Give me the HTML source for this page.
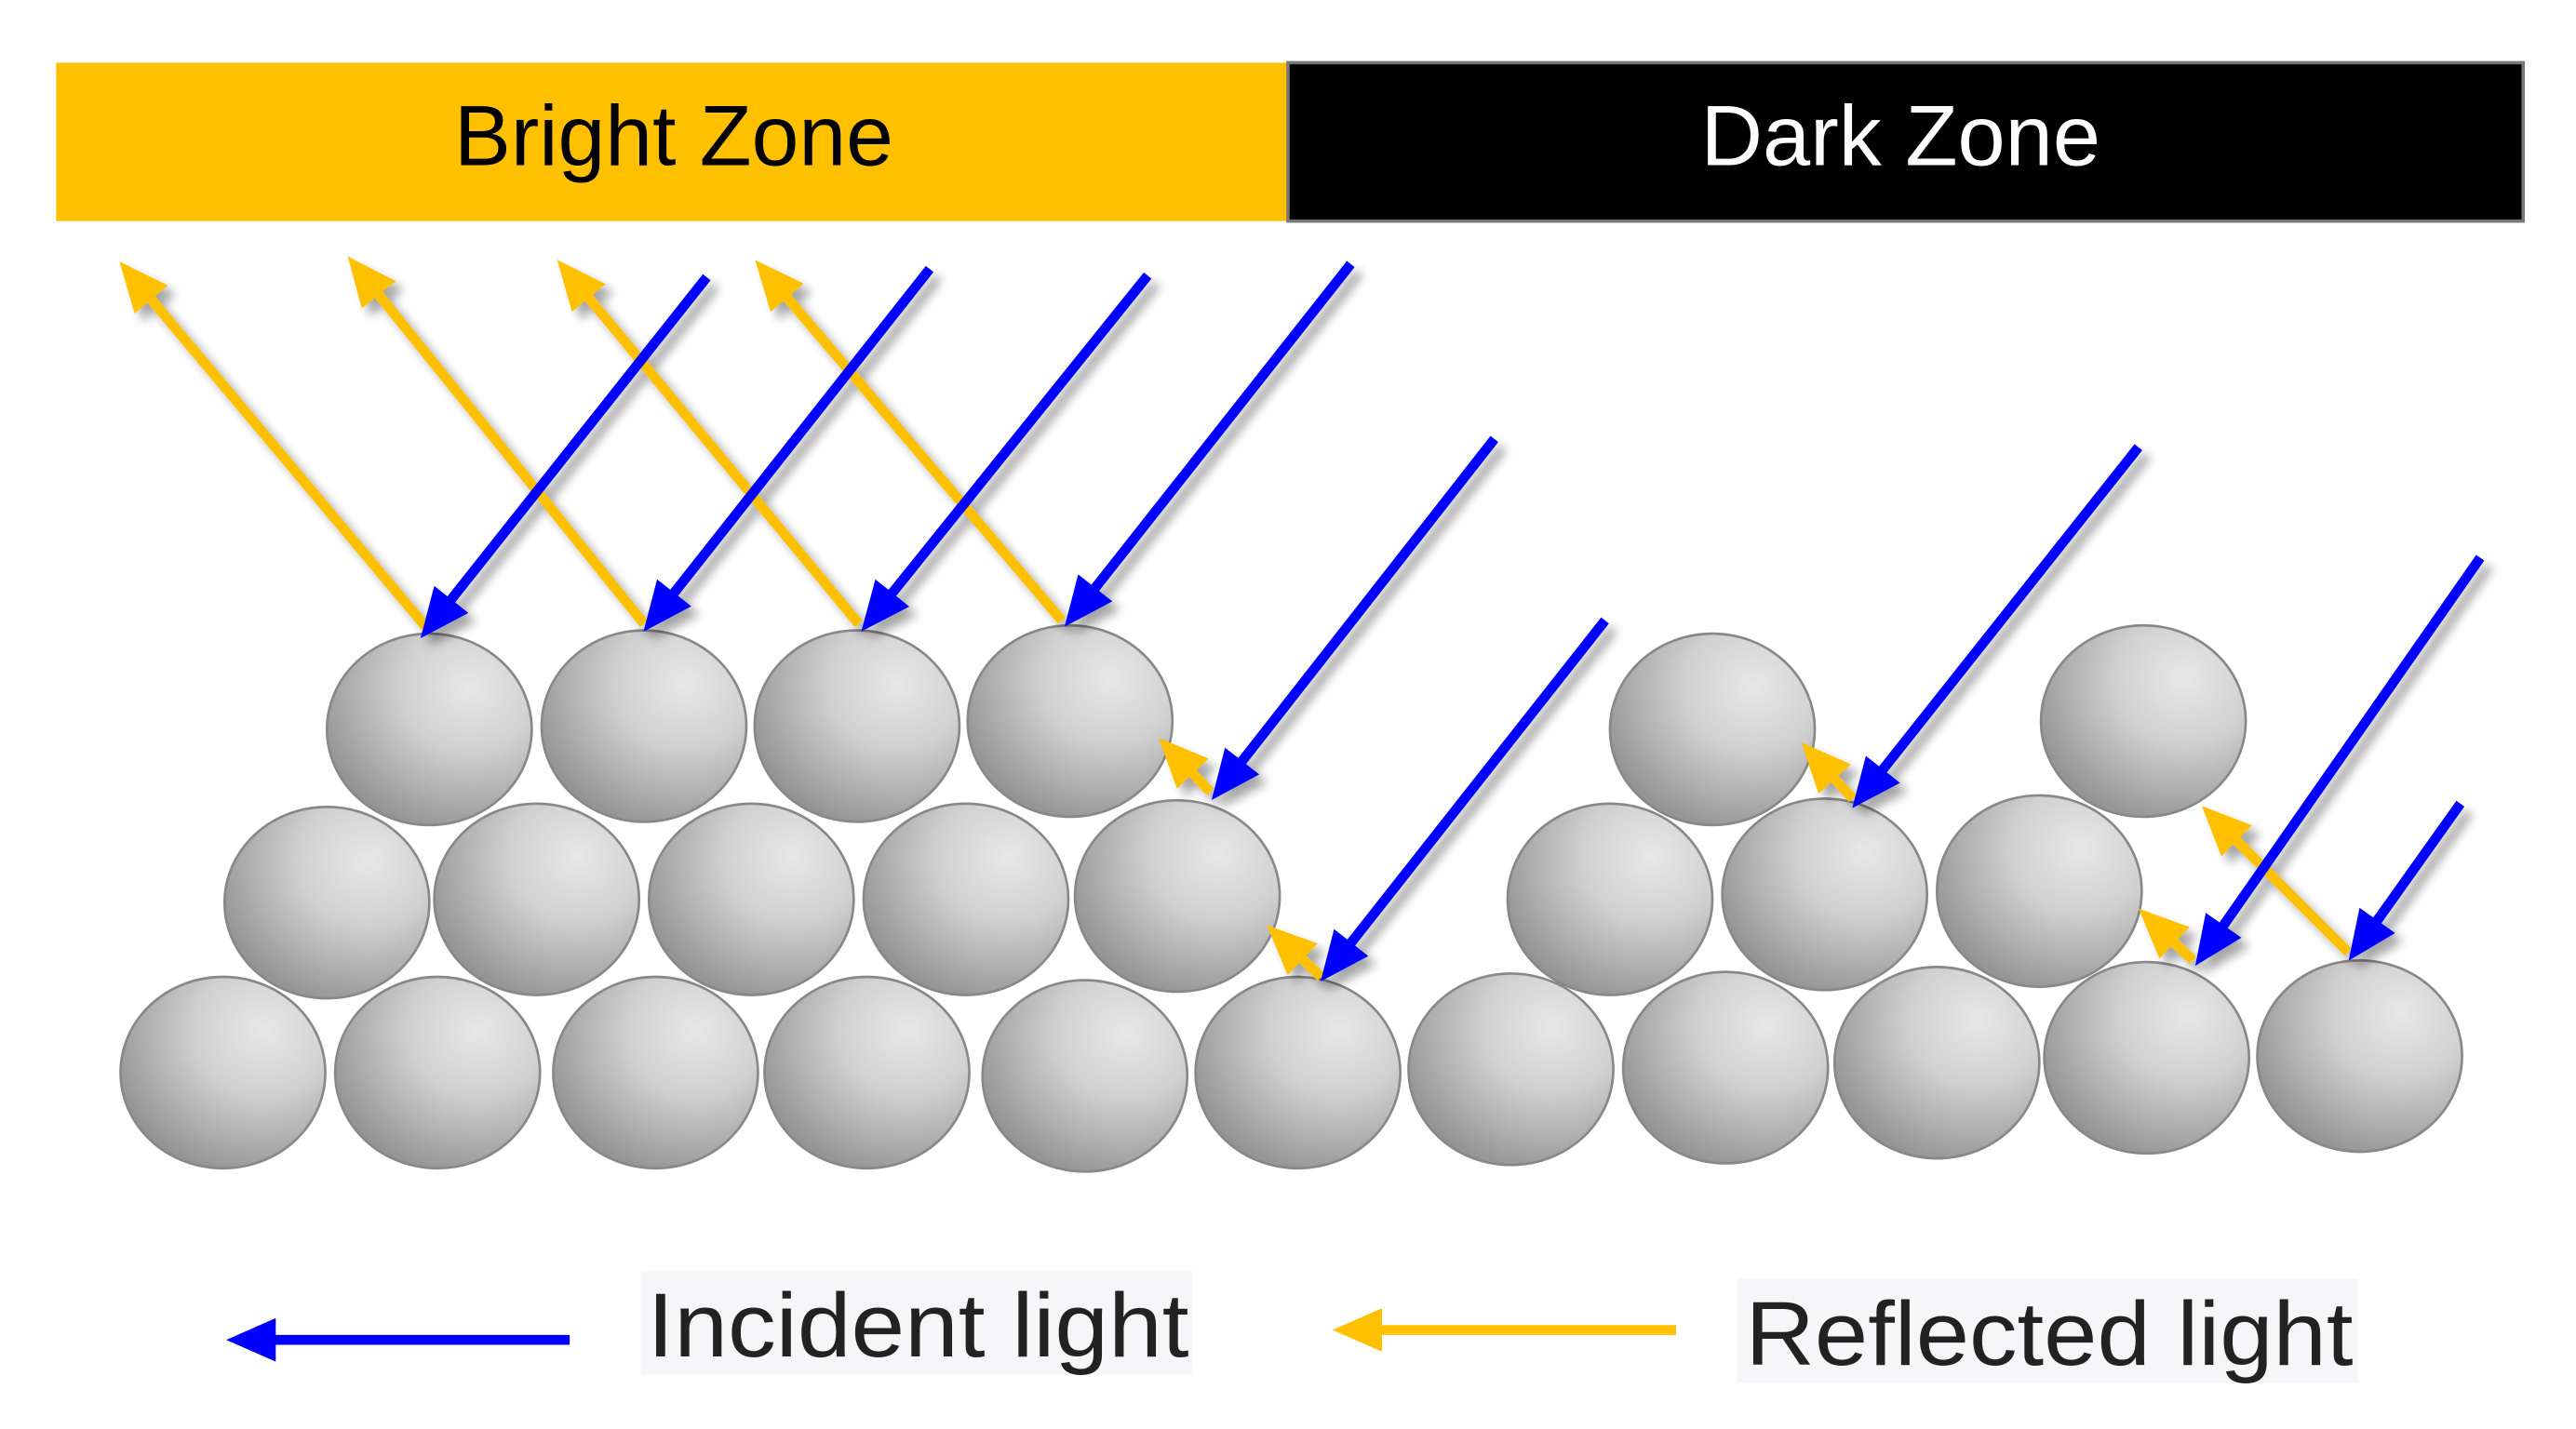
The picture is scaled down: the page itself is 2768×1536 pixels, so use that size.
<!DOCTYPE html>
<html><head><meta charset="utf-8"><style>html,body{margin:0;padding:0;background:#fff;}svg{display:block}</style></head>
<body>
<svg width="2768" height="1536" viewBox="0 0 1560 866" preserveAspectRatio="none" xmlns="http://www.w3.org/2000/svg" font-family="Liberation Sans, sans-serif">
<defs>
<radialGradient id="g" cx="0.7" cy="0.28" r="0.85">
<stop offset="0" stop-color="#e8e8e8"/><stop offset="0.4" stop-color="#d0d0d0"/><stop offset="1" stop-color="#8a8a8a"/>
</radialGradient>
<filter id="sh" x="-20%" y="-20%" width="140%" height="140%"><feGaussianBlur in="SourceAlpha" stdDeviation="3"/><feOffset dx="5" dy="5"/><feComponentTransfer><feFuncA type="linear" slope="0.35"/></feComponentTransfer><feMerge><feMergeNode/><feMergeNode in="SourceGraphic"/></feMerge></filter>
<marker id="ab" markerWidth="5" markerHeight="4.4" refX="2.5" refY="2.2" orient="auto" markerUnits="strokeWidth"><path d="M0,0 L5,2.2 L0,4.4 Z" fill="#0000ff"/></marker>
<marker id="ay" markerWidth="5" markerHeight="4.4" refX="2.5" refY="2.2" orient="auto" markerUnits="strokeWidth"><path d="M0,0 L5,2.2 L0,4.4 Z" fill="#ffc000"/></marker>
</defs>
<rect x="34" y="38" width="746" height="96" fill="#ffc000"/>
<rect x="780" y="38" width="748" height="96" fill="#000" stroke="#777" stroke-width="2"/>
<text x="275" y="100" font-size="52" fill="#000" textLength="266" lengthAdjust="spacingAndGlyphs">Bright Zone</text>
<text x="1030" y="100" font-size="52" fill="#fff" textLength="242" lengthAdjust="spacingAndGlyphs">Dark Zone</text>
<g fill="url(#g)" stroke="#888" stroke-width="1.5">
<ellipse cx="135" cy="650" rx="62" ry="58"/><ellipse cx="265" cy="650" rx="62" ry="58"/><ellipse cx="397" cy="650" rx="62" ry="58"/><ellipse cx="525" cy="650" rx="62" ry="58"/><ellipse cx="657" cy="652" rx="62" ry="58"/><ellipse cx="786" cy="650" rx="62" ry="58"/><ellipse cx="915" cy="648" rx="62" ry="58"/><ellipse cx="1045" cy="647" rx="62" ry="58"/><ellipse cx="1173" cy="644" rx="62" ry="58"/><ellipse cx="1300" cy="641" rx="62" ry="58"/><ellipse cx="1429" cy="640" rx="62" ry="58"/>
<ellipse cx="198" cy="547" rx="62" ry="58"/><ellipse cx="325" cy="545" rx="62" ry="58"/><ellipse cx="455" cy="545" rx="62" ry="58"/><ellipse cx="585" cy="545" rx="62" ry="58"/><ellipse cx="713" cy="543" rx="62" ry="58"/>
<ellipse cx="975" cy="545" rx="62" ry="58"/><ellipse cx="1105" cy="542" rx="62" ry="58"/><ellipse cx="1235" cy="540" rx="62" ry="58"/>
<ellipse cx="260" cy="442" rx="62" ry="58"/><ellipse cx="390" cy="440" rx="62" ry="58"/><ellipse cx="519" cy="440" rx="62" ry="58"/><ellipse cx="648" cy="437" rx="62" ry="58"/>
<ellipse cx="1037" cy="442" rx="62" ry="58"/><ellipse cx="1298" cy="437" rx="62" ry="58"/>
</g>
<g filter="url(#sh)" stroke-width="6" fill="none">
<g stroke="#ffc000" marker-end="url(#ay)">
<line x1="258" y1="380" x2="82" y2="170"/><line x1="390" y1="378" x2="220" y2="167"/><line x1="520" y1="378" x2="347" y2="169"/><line x1="643" y1="376" x2="467" y2="169"/>
<line x1="733" y1="480" x2="712" y2="458"/><line x1="800" y1="592" x2="778" y2="571"/><line x1="1122" y1="484" x2="1101" y2="461"/><line x1="1328" y1="582" x2="1306" y2="561"/><line x1="1422" y1="577" x2="1344" y2="499"/>
</g>
<g stroke="#0000ff" marker-end="url(#ab)">
<line x1="428" y1="168" x2="264" y2="375"/><line x1="563" y1="163" x2="399" y2="371"/><line x1="695" y1="167" x2="531" y2="371"/><line x1="818" y1="160" x2="654" y2="368"/><line x1="905" y1="266" x2="743" y2="473"/><line x1="972" y1="376" x2="809" y2="583"/><line x1="1295" y1="271" x2="1131" y2="478"/><line x1="1502" y1="338" x2="1338" y2="573"/><line x1="1490" y1="487" x2="1431" y2="570"/>
</g>
</g>
<rect x="388" y="770" width="334" height="63" fill="#f6f6f8"/>
<rect x="1052" y="775" width="376" height="63" fill="#f6f6f8"/>
<line x1="345" y1="812" x2="152" y2="812" stroke="#0000ff" stroke-width="6" marker-end="url(#ab)"/>
<line x1="1015" y1="806" x2="822" y2="806" stroke="#ffc000" stroke-width="6" marker-end="url(#ay)"/>
<text x="392" y="822" font-size="55" fill="#222" textLength="328" lengthAdjust="spacingAndGlyphs">Incident light</text>
<text x="1057" y="827" font-size="55" fill="#222" textLength="368" lengthAdjust="spacingAndGlyphs">Reflected light</text>
</svg>
</body></html>
